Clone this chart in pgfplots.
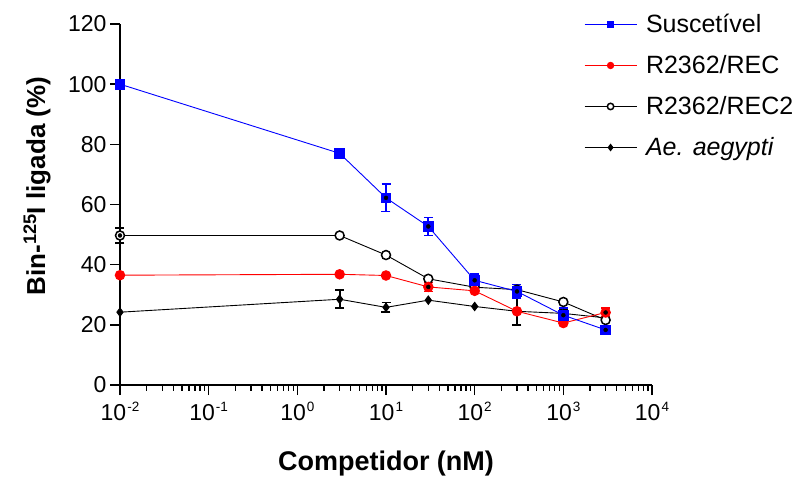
\documentclass[border=0pt]{standalone}
\usepackage{fontspec}
\setmainfont{Liberation Sans}
\usepackage{pgfplots}
\pgfplotsset{compat=1.18}
\definecolor{gpblue}{RGB}{0,0,255}
\definecolor{gpred}{RGB}{255,0,0}
\newcommand\ex[1]{10\kern1pt\raisebox{0.37em}{\fontsize{13.5}{14}\selectfont #1}}

\pgfplotstableread{
x y
0.01 100.0
3 77.0
10 62.2
30 52.7
100 34.8
300 31.1
1000 23.2
3000 18.3
}\susc
\pgfplotstableread{
x y e
10 62.2 4.5
30 52.7 3.0
100 34.8 2.2
300 31.1 2.3
1000 23.2 2.5
3000 18.3 1.5
}\suscerr
\pgfplotstableread{
x y
0.01 36.5
3 36.8
10 36.4
30 32.6
100 31.3
300 24.5
1000 20.6
3000 24.1
}\rec
\pgfplotstableread{
x y e
30 32.6 1.5
3000 24.1 1.5
}\recerr
\pgfplotstableread{
x y
0.01 49.7
3 49.7
10 43.2
30 35.3
100 32.5
300 31.7
1000 27.6
3000 21.6
}\rectwo
\pgfplotstableread{
x y e
0.01 49.7 2.5
}\rectwoerr
\pgfplotstableread{
x y
0.01 24.2
3 28.5
10 25.8
30 28.2
100 26.1
300 24.5
1000 23.8
3000 22.3
}\aeg
\pgfplotstableread{
x y e
3 28.5 3.0
10 25.8 1.6
300 24.5 4.6
1000 23.8 1.5
}\aegerr

\begin{document}
\begin{tikzpicture}
\begin{axis}[
  scale only axis, width=532pt, height=361pt,
  xmode=log, xmin=0.01, xmax=10000, ymin=0, ymax=120,
  axis x line*=bottom, axis y line*=left,
  axis line style={line width=1.6pt, -},
  xtick={0.01,0.1,1,10,100,1000,10000},
  xticklabels={\ex{-2},\ex{-1},\ex{0},\ex{1},\ex{2},\ex{3},\ex{4}},
  minor xtick={0.02,0.03,0.04,0.05,0.06,0.07,0.08,0.09,0.2,0.3,0.4,0.5,0.6,0.7,0.8,0.9,2,3,4,5,6,7,8,9,20,30,40,50,60,70,80,90,200,300,400,500,600,700,800,900,2000,3000,4000,5000,6000,7000,8000,9000},
  ytick={0,20,...,120},
  tick align=outside,
  major tick length=10pt, minor tick length=6pt,
  every tick/.style={black, line width=1.6pt},
  every minor tick/.style={black, line width=1.3pt},
  /pgf/number format/assume math mode=true,
  tick label style={font=\fontsize{23}{27}\selectfont},
  xticklabel style={yshift=-4pt},
  xlabel={\textbf{Competidor (nM)}},
  ylabel={\textbf{Bin-\textsuperscript{125}I ligada (\%)}},
  xlabel style={font=\fontsize{27}{32}\selectfont, at={(axis description cs:0.5,-0.238)}, anchor=base},
  ylabel style={font=\fontsize{26}{31}\selectfont, at={(axis description cs:-0.156,0.551)}, anchor=center},
  clip=false,
  reverse legend,
  legend style={at={(rel axis cs:0.872,1.056)}, anchor=north west, draw=none, fill=none,
    font=\fontsize{25}{30}\selectfont, inner sep=0pt,
    nodes={inner sep=0pt, minimum height=41pt},
    /tikz/every odd column/.append style={column sep=9pt}},
  legend cell align=left,
  legend image code/.code={\draw[mark repeat=2,mark phase=2,#1,mark size=3.2pt] plot coordinates {(0pt,0pt) (26pt,0pt) (52pt,0pt)};},
]
% Ae. aegypti
\addplot[black, line width=0.9pt, mark=diamond*, mark size=4.2pt, mark options={solid, fill=black}] table[x=x,y=y] {\aeg};
\addlegendentry{\textit{Ae. aegypti}}
\addplot[only marks, mark=none, forget plot, error bars/.cd, y dir=both, y explicit,
  error bar style={black, line width=1.8pt}, error mark options={rotate=90, mark size=4.5pt, line width=1.8pt, black}]
  table[x=x,y=y,y error=e] {\aegerr};
% R2362/REC2
\addplot[black, line width=0.9pt, mark=*, mark size=4.5pt, mark options={solid, fill=white, line width=1.5pt}] table[x=x,y=y] {\rectwo};
\addlegendentry{R2362/REC2}
\addplot[only marks, mark=none, forget plot, error bars/.cd, y dir=both, y explicit,
  error bar style={black, line width=1.8pt}, error mark options={rotate=90, mark size=4.5pt, line width=1.8pt, black}]
  table[x=x,y=y,y error=e] {\rectwoerr};
% R2362/REC
\addplot[gpred, line width=0.9pt, mark=*, mark size=4.8pt, mark options={solid, fill=gpred}] table[x=x,y=y] {\rec};
\addlegendentry{R2362/REC}
\addplot[only marks, mark=none, forget plot, error bars/.cd, y dir=both, y explicit,
  error bar style={gpred, line width=1.8pt}, error mark options={rotate=90, mark size=4.5pt, line width=1.8pt, gpred}]
  table[x=x,y=y,y error=e] {\recerr};
% Suscetivel
\addplot[gpblue, line width=0.9pt, mark=square*, mark size=4.8pt, mark options={solid, fill=gpblue}] table[x=x,y=y] {\susc};
\addlegendentry{Suscetível}
\addplot[only marks, mark=none, forget plot, error bars/.cd, y dir=both, y explicit,
  error bar style={gpblue, line width=1.8pt}, error mark options={rotate=90, mark size=4.5pt, line width=1.8pt, gpblue}]
  table[x=x,y=y,y error=e] {\suscerr};
\end{axis}
\pgfresetboundingbox
\path[use as bounding box] (current axis.south west) ++(-120pt,-93pt) rectangle ++(797pt,478pt);
\end{tikzpicture}
\end{document}
